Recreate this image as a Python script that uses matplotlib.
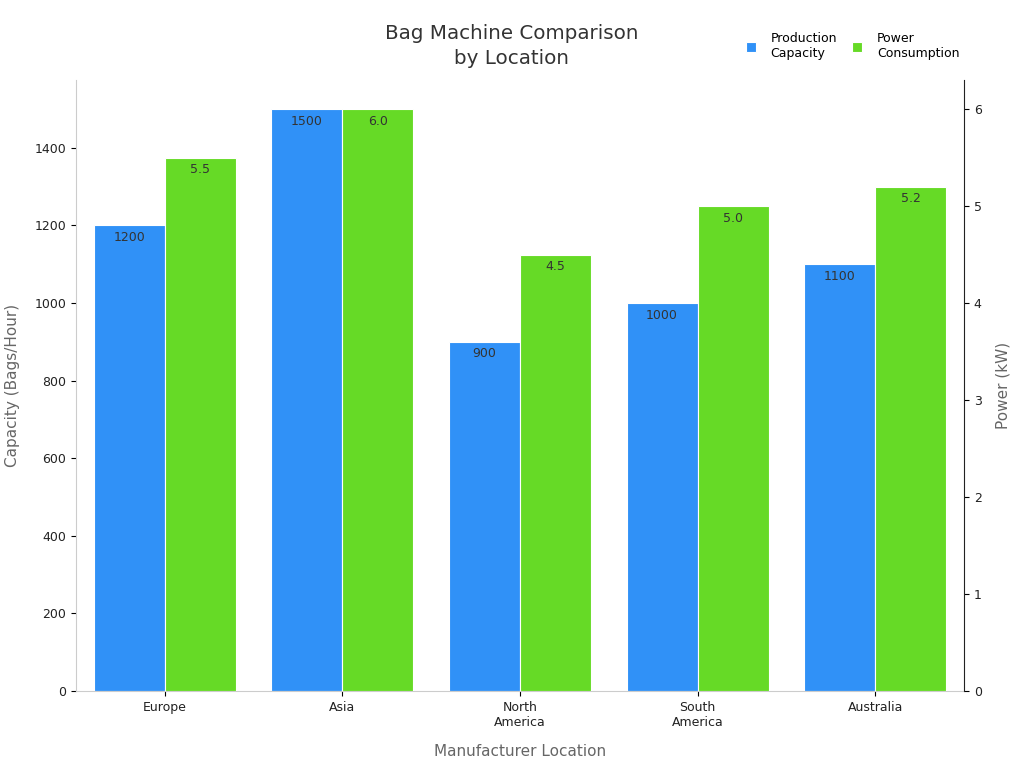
import matplotlib.pyplot as plt
import numpy as np

locations = ["Europe", "Asia", "North\nAmerica", "South\nAmerica", "Australia"]
capacity = [1200, 1500, 900, 1000, 1100]
power = [5.5, 6.0, 4.5, 5.0, 5.2]

blue = "#3091f7"
green = "#66da26"

fig = plt.figure(figsize=(10.24, 7.68), dpi=100)
ax = fig.add_axes([0.0742, 0.1003, 0.8672, 0.7955])
ax2 = ax.twinx()

x = np.arange(len(locations))
w = 0.4
b1 = ax.bar(x - w / 2, capacity, w, color=blue, edgecolor="white", linewidth=0.8,
            label="Production\nCapacity")
b2 = ax2.bar(x + w / 2, power, w, color=green, edgecolor="white", linewidth=0.8,
             label="Power\nConsumption")

for rect, v in zip(b1, capacity):
    ax.annotate(f"{v}", (rect.get_x() + rect.get_width() / 2, v), xytext=(0, -4),
                textcoords="offset points", ha="center", va="top", fontsize=9, color="#333333")
for rect, v in zip(b2, power):
    ax2.annotate(f"{v:.1f}", (rect.get_x() + rect.get_width() / 2, v), xytext=(0, -4),
                 textcoords="offset points", ha="center", va="top", fontsize=9, color="#333333")

ax.set_xlim(-0.5, len(locations) - 0.5)
ax.set_ylim(0, max(capacity) * 1.05)
ax2.set_ylim(0, max(power) * 1.05)
ax.set_xticks(x)
ax.set_xticklabels(locations, fontsize=9, color="#222222")
ax.set_yticks(range(0, 1401, 200))
ax.tick_params(axis="y", labelsize=9, labelcolor="#222222")
ax2.tick_params(axis="y", labelsize=9, labelcolor="#222222")

ax.set_xlabel("Manufacturer Location", fontsize=11, color="#666666", labelpad=11)
ax.set_ylabel("Capacity (Bags/Hour)", fontsize=11, color="#666666", labelpad=10)
ax2.set_ylabel("Power (kW)", fontsize=11, color="#666666", labelpad=10)

for a in (ax, ax2):
    a.spines["top"].set_visible(False)
ax.spines["right"].set_visible(False)
ax.spines["left"].set_color("#cccccc")
ax.spines["bottom"].set_color("#cccccc")
ax2.spines["left"].set_visible(False)
ax2.spines["bottom"].set_visible(False)
ax2.spines["right"].set_color("#222222")

fig.text(0.5, 0.940, "Bag Machine Comparison\nby Location", ha="center", va="center",
         fontsize=14.3, color="#333333", linespacing=1.45)

handles = [b1, b2]
fig.legend(handles, [h.get_label() for h in handles], loc="center right",
           bbox_to_anchor=(0.948, 0.94), ncol=2, frameon=False, fontsize=9,
           handlelength=0.8, handleheight=0.8, handletextpad=1.2, columnspacing=1.2)

fig.savefig("out.png", dpi=100)
